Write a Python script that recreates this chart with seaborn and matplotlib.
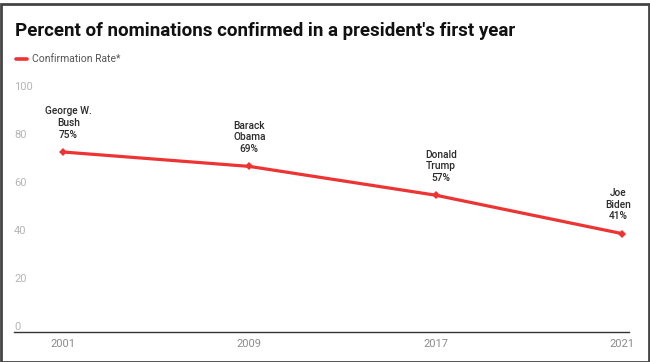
import matplotlib.pyplot as plt
import seaborn as sns
import pandas as pd
from matplotlib.lines import Line2D
from matplotlib.patches import Rectangle

sns.set_theme(style="white")
plt.rcParams["font.family"] = ["Roboto", "DejaVu Sans"]

years = ["2001", "2009", "2017", "2021"]
presidents = ["George W.\nBush", "Barack\nObama", "Donald\nTrump", "Joe\nBiden"]
rates = [75, 69, 57, 41]
y_ticks = [0, 20, 40, 60, 80, 100]

df = pd.DataFrame({"year": years, "rate": rates, "president": presidents})
df["pos"] = range(len(df))

RED = "#ee3333"
W, H = 650, 362
fig = plt.figure(figsize=(W / 100, H / 100), dpi=100)

# axes placed in pixel terms: left 14, right 629, baseline 332, top (100) at 92
ax = fig.add_axes([14 / W, 1 - 332 / H, 615 / W, 240 / H])
sns.lineplot(data=df, x="pos", y="rate", ax=ax, color=RED, linewidth=2.3,
             marker="D", markersize=4, markeredgewidth=0)

ax.set_xlim(-0.263, 3.038)
ax.set_ylim(0, 100)
ax.set_xticks(df["pos"])
ax.set_xticklabels(years)
ax.set_yticks(y_ticks)
ax.set_yticklabels([str(t) for t in y_ticks])
ax.tick_params(axis="x", length=0, pad=5, labelsize=8, labelcolor="#8a8a8a")
ax.tick_params(axis="y", length=0, pad=0, labelsize=8, labelcolor="#b5b5b5")
for lbl in ax.get_yticklabels():
    lbl.set_ha("left")
    lbl.set_va("bottom")
ax.set_xlabel("")
ax.set_ylabel("")
for side in ["top", "right", "left"]:
    ax.spines[side].set_visible(False)
ax.spines["bottom"].set_color("#333333")
ax.spines["bottom"].set_linewidth(1)
ax.patch.set_alpha(0)

# point labels
offsets = [4, 0, 4, -3]
for i, row in df.iterrows():
    ax.annotate(f"{row['president']}\n{row['rate']}%", (row["pos"], row["rate"]),
                xytext=(offsets[i], 9), textcoords="offset points",
                ha="center", va="bottom", fontsize=7.3, fontweight="medium",
                color="#2a2a2a", linespacing=1.2)

# title and legend
fig.text(15 / W, 1 - 31 / H, "Percent of nominations confirmed in a president's first year",
         fontsize=13.5, fontweight="bold", color="#111111", va="center", ha="left")
fig.add_artist(Line2D([16 / W, 27 / W], [1 - 59 / H] * 2, color=RED, linewidth=2.6,
                      solid_capstyle="round"))
fig.text(32 / W, 1 - 59 / H, "Confirmation Rate*", fontsize=7.5, color="#555555",
         va="center", ha="left")

# outer frame
fig.add_artist(Rectangle((0.5 / W, 0.5 / H), (W - 2) / W, (H - 4) / H,
                         transform=fig.transFigure, fill=False,
                         edgecolor="#444444", linewidth=2))

fig.savefig("out.png", dpi=100)
